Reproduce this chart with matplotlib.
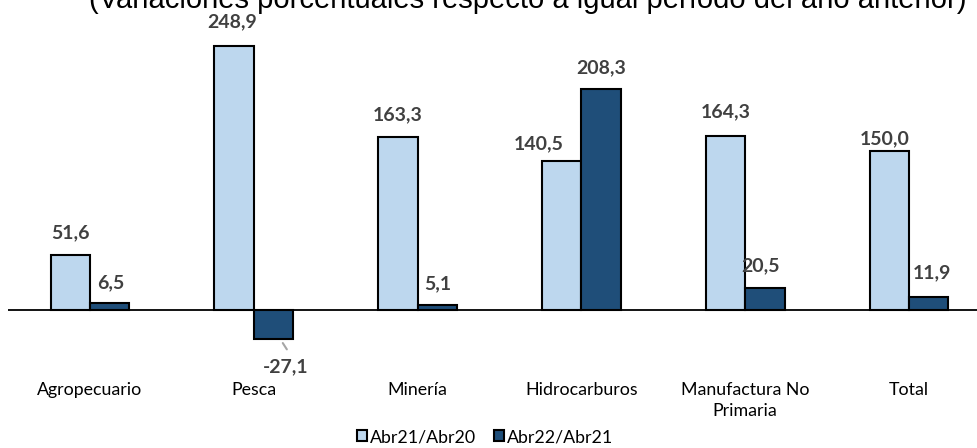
import matplotlib
matplotlib.use("Agg")
import matplotlib.pyplot as plt
import numpy as np

categories = ["Agropecuario", "Pesca", "Minería", "Hidrocarburos", "Manufactura No\nPrimaria", "Total"]
serie_names = ["Abr21/Abr20", "Abr22/Abr21"]
abr21 = [51.6, 248.9, 163.3, 140.5, 164.3, 150.0]
abr22 = [6.5, -27.1, 5.1, 208.3, 20.5, 11.9]
title = "(Variaciones porcentuales respecto a igual período del año anterior)"

# label offsets in pixels (dx, dy) for overlap avoidance, style only
off1 = [(0, 23), (-1.5, 25), (0, 22), (-23, 17), (0, 24), (-4.5, 12)]
off2 = [(1.5, 20), (12, -28), (0.5, 21), (0, 21.5), (-4.5, 23), (3.5, 25)]
PT = 72 / 100

W, H = 977, 448
fig = plt.figure(figsize=(W / 100, H / 100), dpi=100)
scale = 1.059  # px per unit
zero_px = 310
ax_top_px, ax_bot_px = 20, 360
ax = fig.add_axes([8 / W, 1 - ax_bot_px / H, (991 - 8) / W, (ax_bot_px - ax_top_px) / H])
ax.set_ylim(-(ax_bot_px - zero_px) / scale, (zero_px - ax_top_px) / scale)
ax.set_xlim(-0.5, 5.5)
ax.patch.set_alpha(0)

x = np.arange(len(categories))
bw = 0.24
light = "#BDD7EE"
dark = "#1F4E79"
b1 = ax.bar(x - bw / 2, abr21, bw, color=light, edgecolor="black", linewidth=1.5, label=serie_names[0])
b2 = ax.bar(x + bw / 2, abr22, bw, color=dark, edgecolor="black", linewidth=1.5, label=serie_names[1])

ax.axhline(0, color="black", linewidth=1.3, zorder=0.5)
for s in ax.spines.values():
    s.set_visible(False)
ax.set_xticks([])
ax.set_yticks([])

lab_font = "Lato"
txtc = "#404040"
vsize = 14
for i, v in enumerate(abr21):
    dx, dy = off1[i]
    ax.annotate(f"{v:.1f}".replace(".", ","), (x[i] - bw / 2, v), xytext=(dx * PT, dy * PT),
                textcoords="offset points", ha="center", va="center",
                fontsize=vsize, fontweight="bold", color=txtc, family=lab_font, annotation_clip=False)
for i, v in enumerate(abr22):
    dx, dy = off2[i]
    ax.annotate(f"{v:.1f}".replace(".", ","), (x[i] + bw / 2, v), xytext=(dx * PT, dy * PT),
                textcoords="offset points", ha="center", va="center",
                fontsize=vsize, fontweight="bold", color=txtc, family=lab_font, annotation_clip=False)
    if v < 0:
        ax.annotate("", xy=(x[i] + bw / 2 + 0.2 * bw, v - 2 / scale),
                    xytext=(x[i] + bw / 2 + 0.38 * bw, v - 13 / scale),
                    arrowprops=dict(arrowstyle="-", color="#A6A6A6", lw=1.5))

for i, c in enumerate(categories):
    ax.text(x[i], -(382 - zero_px) / scale, c, ha="center", va="top",
            fontsize=12.8, color="black", family=lab_font, linespacing=1.35)

fig.text(528 / W, 1 - 8 / H, title, ha="center", va="baseline",
         fontsize=21, family="Liberation Sans", color="black")

leg = fig.legend(handles=[b1, b2], labels=serie_names, loc="center",
                 bbox_to_anchor=(485 / W, 1 - 437 / H), ncol=2, frameon=False,
                 prop={"family": lab_font, "size": 12.8}, handlelength=0.6, handleheight=0.6,
                 handletextpad=0.15, columnspacing=1.0, borderpad=0.1)

fig.savefig("out.png", dpi=100)
